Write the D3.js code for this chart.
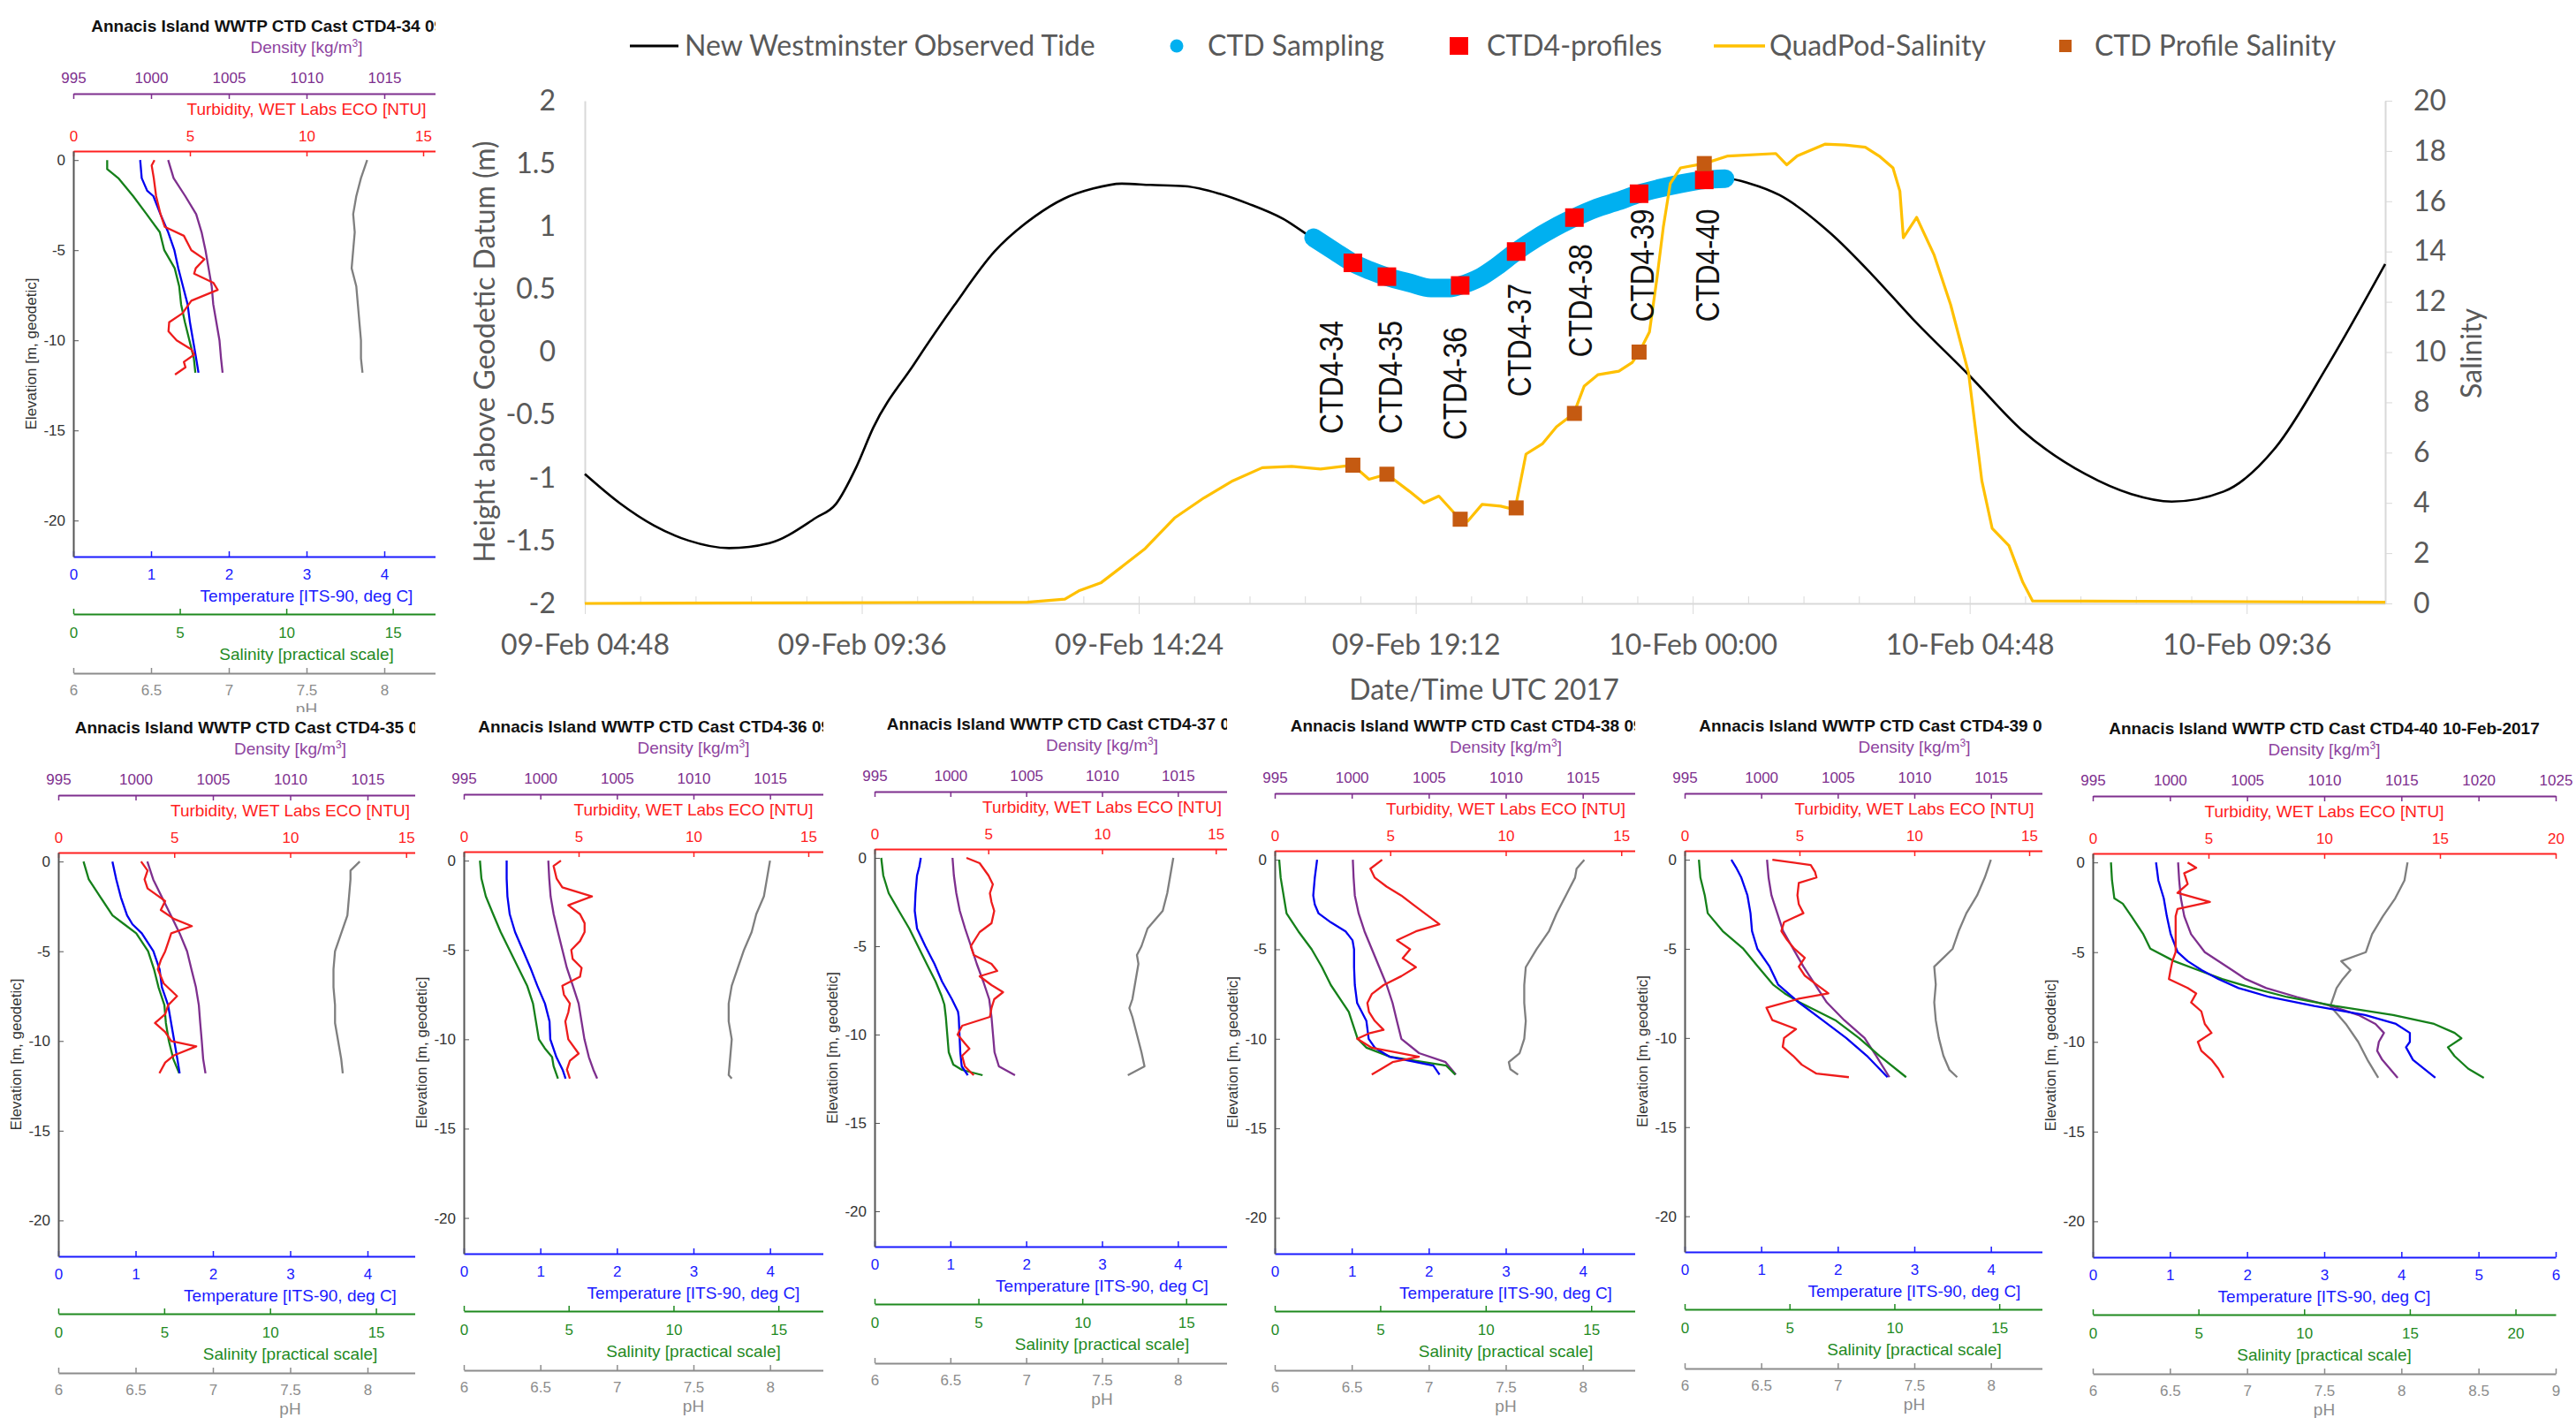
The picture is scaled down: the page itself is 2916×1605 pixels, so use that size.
<!DOCTYPE html>
<html>
<head>
<meta charset="utf-8">
<script src="https://cdn.jsdelivr.net/npm/d3@7/dist/d3.min.js"></script>
<style>
  body { margin: 0; background: #fff; }
  svg { display: block; }
</style>
</head>
<body>
<script>
// ---------- main tide chart data (hours after 09-Feb 04:48 UTC) ----------
var tide = [[0,-0.97],[0.6,-1.20],[1.2,-1.38],[1.8,-1.50],[2.5,-1.56],[3.2,-1.52],[4.0,-1.32],[4.35,-1.21],
  [4.7,-0.92],[5.0,-0.60],[5.7,-0.10],[6.4,0.37],[7.1,0.80],[7.8,1.08],[8.3,1.22],[8.8,1.30],[9.3,1.34],
  [9.8,1.33],[10.4,1.32],[11.0,1.26],[11.5,1.18],[12.1,1.06],[12.6,0.91],[13.3,0.71],[13.9,0.60],[14.6,0.52],
  [15.2,0.53],[15.7,0.64],[16.2,0.80],[16.7,0.95],[17.2,1.07],[17.7,1.17],[18.3,1.26],[18.9,1.32],[19.4,1.36],
  [19.8,1.38],[20.2,1.34],[20.7,1.25],[21.6,0.94],[22.3,0.62],[23.0,0.27],[24.0,-0.19],[24.9,-0.62],[26.0,-0.97],
  [26.8,-1.13],[27.5,-1.19],[28.4,-1.11],[29.3,-0.76],[30.2,-0.11],[31.2,0.70]];

var ctdSampling = [[12.63,0.91],[13.0,0.80],[13.31,0.71],[13.6,0.65],[13.9,0.60],[14.3,0.55],[14.66,0.51],
  [15.0,0.51],[15.17,0.53],[15.5,0.59],[15.8,0.68],[16.14,0.80],[16.5,0.91],[16.8,0.99],[17.15,1.07],[17.5,1.14],
  [17.9,1.20],[18.27,1.26],[18.6,1.30],[19.0,1.34],[19.4,1.37],[19.76,1.38]];

var castNames = ["CTD4-34","CTD4-35","CTD4-36","CTD4-37","CTD4-38","CTD4-39","CTD4-40"];
var castDates = ["09-Feb-2017","09-Feb-2017","09-Feb-2017","09-Feb-2017","09-Feb-2017","09-Feb-2017","10-Feb-2017"];
var profileHours = [13.31, 13.90, 15.17, 16.14, 17.15, 18.27, 19.40];
var profileLevel = [0.71, 0.60, 0.53, 0.80, 1.07, 1.26, 1.37];
var profileSalinity = [5.5, 5.14, 3.35, 3.8, 7.56, 10.0, 17.5];
var labelHours = [12.94, 13.97, 15.08, 16.19, 17.26, 18.33, 19.46];
var labelBase = [-0.65, -0.65, -0.70, -0.355, -0.04, 0.24, 0.24];

var quadPod = [[0,0],[7.67,0.05],[8.32,0.17],[8.56,0.5],[8.95,0.83],[9.33,1.5],[9.71,2.18],[10.22,3.4],[10.73,4.2],
  [11.23,4.88],[11.74,5.4],[12.25,5.45],[12.75,5.35],[13.31,5.5],[13.59,4.94],[13.9,5.14],[14.29,4.46],[14.54,4.0],
  [14.8,4.27],[15.17,3.34],[15.3,3.27],[15.55,3.94],[15.87,3.87],[16.12,3.73],[16.31,5.94],[16.6,6.36],[16.84,7.03],
  [17.14,7.56],[17.32,8.65],[17.56,9.1],[17.92,9.24],[18.15,9.58],[18.27,9.98],[18.45,10.8],[18.58,12.94],
  [18.69,14.97],[18.81,16.7],[18.99,17.33],[19.4,17.5],[19.81,17.8],[20.64,17.9],[20.83,17.45],[21.01,17.8],
  [21.49,18.27],[21.84,18.24],[22.19,18.15],[22.43,17.8],[22.67,17.33],[22.79,16.4],[22.85,14.55],[23.08,15.36],
  [23.38,13.88],[23.67,11.88],[23.98,9.17],[24.21,4.88],[24.39,2.98],[24.68,2.3],[24.92,0.84],[25.09,0.1],[31.2,0.05]];

var xTickHours = [0, 4.8, 9.6, 14.4, 19.2, 24, 28.8];
var xTickLabels = ["09-Feb 04:48","09-Feb 09:36","09-Feb 14:24","09-Feb 19:12","10-Feb 00:00","10-Feb 04:48","10-Feb 09:36"];
var leftTicks = [-2,-1.5,-1,-0.5,0,0.5,1,1.5,2];
var rightTicks = [0,2,4,6,8,10,12,14,16,18,20];

// ---------- CTD profiles: [elevation m, value] ----------
var temp34 = [[0,0.86],[-1,0.88],[-1.7,0.95],[-2,1.03],[-3,1.12],[-4,1.22],[-5,1.30],[-6,1.35],[-7,1.41],[-8,1.47],[-9,1.50],[-10,1.54],[-11,1.58],[-11.8,1.61]];
var sal34 = [[0,1.59],[-0.5,1.59],[-1,2.11],[-2,2.81],[-3,3.44],[-4,4.06],[-5,4.27],[-6,4.76],[-7,4.97],[-8,5.06],[-9,5.24],[-10,5.45],[-11,5.66],[-11.8,5.73]];
var dens34 = [[0,1001.1],[-1,1001.45],[-2,1002.2],[-3,1002.9],[-4,1003.25],[-5,1003.5],[-6,1003.7],[-7,1003.9],[-8,1004.0],[-9,1004.2],[-10,1004.4],[-11,1004.5],[-11.8,1004.6]];
var turb34 = [[0,3.48],[-0.3,3.36],[-1,3.45],[-2,3.55],[-3,3.74],[-3.7,3.92],[-4.2,4.74],[-5,5.06],[-5.5,5.62],[-6,5.25],[-6.3,5.18],[-6.8,6.0],[-7.2,6.19],[-7.8,5.06],[-8.5,4.68],[-9,4.11],[-9.5,4.08],[-10,4.43],[-10.5,5.06],[-10.8,5.18],[-11.2,4.74],[-11.5,4.81],[-11.9,4.36]];
var ph34 = [[0,7.89],[-1,7.85],[-2,7.82],[-3,7.80],[-4,7.81],[-5,7.80],[-6,7.79],[-7,7.82],[-8,7.83],[-9,7.84],[-10,7.85],[-11,7.85],[-11.8,7.86]];

var temp35 = [[0,0.70],[-1,0.75],[-2,0.81],[-3,0.89],[-3.5,0.96],[-4,1.08],[-5,1.23],[-6,1.31],[-7,1.34],[-8,1.42],[-9,1.46],[-10,1.50],[-11,1.54],[-11.8,1.57]];
var sal35 = [[0,1.19],[-1,1.44],[-2,2.0],[-3,2.56],[-3.5,3.12],[-4,3.68],[-5,4.24],[-6,4.52],[-7,4.73],[-8,5.01],[-9,5.08],[-10,5.22],[-11,5.43],[-11.8,5.71]];
var dens35 = [[0,1000.76],[-1,1001.14],[-2,1001.71],[-3,1002.28],[-4,1002.85],[-5,1003.33],[-6,1003.61],[-7,1003.90],[-8,1004.09],[-9,1004.18],[-10,1004.28],[-11,1004.37],[-11.8,1004.52]];
var turb35 = [[0,3.57],[-0.5,3.85],[-1,3.72],[-1.5,3.85],[-2.2,4.61],[-2.7,4.42],[-3.2,4.99],[-3.6,5.76],[-4,4.87],[-4.5,4.74],[-5,4.61],[-5.5,4.42],[-6,4.29],[-6.8,4.55],[-7.5,5.12],[-8,4.74],[-8.5,4.61],[-9,4.17],[-9.5,4.61],[-10,4.87],[-10.3,5.95],[-10.8,4.99],[-11.2,4.61],[-11.8,4.36]];
var ph35 = [[0,7.95],[-0.5,7.89],[-1,7.89],[-2,7.88],[-3,7.87],[-4,7.83],[-5,7.79],[-6,7.78],[-7,7.78],[-8,7.79],[-9,7.79],[-10,7.81],[-11,7.83],[-11.8,7.84]];

var temp36 = [[0,0.56],[-1,0.56],[-2,0.57],[-3,0.60],[-4,0.67],[-5,0.77],[-6,0.87],[-7,0.96],[-8,1.06],[-9,1.12],[-10,1.13],[-11,1.21],[-11.7,1.29],[-12.2,1.33]];
var sal36 = [[0,0.77],[-1,0.84],[-2,1.05],[-3,1.40],[-4,1.76],[-5,2.18],[-6,2.60],[-7,3.02],[-8,3.30],[-9,3.44],[-10,3.58],[-10.5,3.86],[-11,4.21],[-11.5,4.28],[-12.2,4.49]];
var dens36 = [[0,1000.52],[-1,1000.58],[-2,1000.67],[-3,1000.87],[-4,1001.15],[-5,1001.44],[-6,1001.73],[-7,1002.12],[-8,1002.50],[-9,1002.69],[-10,1002.88],[-11,1003.17],[-11.7,1003.46],[-12.2,1003.71]];
var turb36 = [[0,4.23],[-0.3,3.91],[-1,4.04],[-1.5,4.29],[-2,5.58],[-2.5,4.55],[-3,5.06],[-3.5,5.26],[-4,5.26],[-4.5,5.06],[-5,4.68],[-5.5,4.74],[-6,5.13],[-6.5,5.06],[-7,4.29],[-7.5,4.36],[-8,4.62],[-8.5,4.55],[-9,4.42],[-10,4.55],[-10.8,5.0],[-11.2,4.62],[-11.7,4.49],[-12.2,4.62]];
var ph36 = [[0,8.0],[-1,7.98],[-2,7.96],[-3,7.91],[-4,7.88],[-5,7.83],[-6,7.79],[-7,7.75],[-8,7.73],[-9,7.73],[-10,7.75],[-11,7.74],[-12,7.73],[-12.2,7.75]];

var temp37 = [[0,0.61],[-0.5,0.59],[-1,0.56],[-2,0.54],[-3,0.53],[-4,0.56],[-5,0.67],[-6,0.79],[-7,0.89],[-8,1.02],[-8.7,1.10],[-9,1.11],[-10,1.12],[-11,1.13],[-11.8,1.15],[-12.3,1.23]];
var sal37 = [[0,0.32],[-1,0.42],[-2,0.68],[-3,1.17],[-4,1.67],[-5,2.09],[-6,2.51],[-7,2.94],[-7.8,3.22],[-8.3,3.36],[-9,3.43],[-10,3.50],[-11,3.57],[-11.7,3.79],[-12,4.21],[-12.3,5.20]];
var dens37 = [[0,1000.14],[-1,1000.23],[-2,1000.39],[-3,1000.62],[-4,1000.97],[-5,1001.36],[-6,1001.74],[-7,1002.17],[-8,1002.56],[-9,1002.71],[-10,1002.81],[-11,1002.91],[-11.8,1003.20],[-12.3,1004.26]];
var turb37 = [[0,4.04],[-0.3,4.62],[-1,5.01],[-1.5,5.20],[-2,5.07],[-2.5,5.14],[-3,5.26],[-3.7,5.14],[-4.2,4.62],[-5,4.23],[-5.5,4.36],[-6,5.14],[-6.4,5.39],[-6.7,4.62],[-7.2,5.14],[-7.6,5.65],[-8,5.26],[-8.5,5.14],[-9,5.07],[-9.5,3.85],[-10,3.65],[-10.5,3.97],[-10.8,4.17],[-11.2,3.85],[-11.8,3.97],[-12.3,4.36]];
var ph37 = [[0,7.97],[-1,7.95],[-2,7.93],[-3,7.90],[-4,7.80],[-5,7.76],[-5.5,7.73],[-6,7.74],[-7,7.72],[-8,7.70],[-8.5,7.68],[-9,7.70],[-10,7.73],[-11,7.76],[-11.8,7.78],[-12.3,7.67]];

var temp38 = [[0,0.55],[-1,0.52],[-2,0.50],[-2.5,0.52],[-3,0.57],[-3.5,0.73],[-4,0.92],[-4.5,1.01],[-5,1.03],[-6,1.03],[-7,1.04],[-8,1.07],[-9,1.19],[-10,1.22],[-10.5,1.30],[-11,1.49],[-11.5,2.06],[-12,2.14]];
var sal38 = [[0,0.21],[-1,0.28],[-2,0.42],[-3,0.56],[-4,1.12],[-5,1.75],[-6,2.24],[-7,2.66],[-8,3.23],[-8.5,3.51],[-9,3.65],[-10,3.93],[-10.5,4.35],[-11,5.47],[-11.5,8.13],[-12,8.56]];
var dens38 = [[0,1000.07],[-1,1000.12],[-2,1000.20],[-3,1000.45],[-4,1000.83],[-5,1001.31],[-6,1001.79],[-7,1002.27],[-8,1002.65],[-9,1002.93],[-10,1003.22],[-10.8,1004.37],[-11.3,1006.09],[-12,1006.76]];
var turb38 = [[0,4.65],[-0.5,4.14],[-1,4.33],[-1.5,4.84],[-2,5.48],[-2.5,5.99],[-3,6.50],[-3.6,7.13],[-4,6.11],[-4.5,5.29],[-5,5.86],[-5.5,5.54],[-6,6.11],[-6.5,5.48],[-7,4.71],[-7.5,4.20],[-8,4.01],[-8.5,4.08],[-9,4.33],[-9.5,4.71],[-9.7,4.08],[-10,3.57],[-10.5,4.20],[-11,6.24],[-11.3,5.10],[-11.7,4.59],[-12,4.20]];
var ph38 = [[0,8.01],[-0.5,7.96],[-1,7.95],[-2,7.89],[-3,7.83],[-4,7.78],[-5,7.70],[-6,7.63],[-7,7.62],[-8,7.62],[-9,7.63],[-10,7.62],[-10.8,7.59],[-11.3,7.52],[-11.7,7.53],[-12,7.58]];

var temp39 = [[0,0.61],[-0.5,0.68],[-1,0.74],[-2,0.82],[-3,0.86],[-4,0.88],[-5,0.95],[-6,1.11],[-7,1.22],[-8,1.49],[-9,1.80],[-10,2.11],[-11,2.38],[-12.2,2.65]];
var sal39 = [[0,0.68],[-1,0.75],[-2,0.96],[-3,1.10],[-4,1.81],[-5,2.80],[-6,3.50],[-7,4.21],[-7.5,4.77],[-8,5.48],[-9,7.18],[-10,8.31],[-11,9.29],[-12.2,10.56]];
var dens39 = [[0,1000.38],[-1,1000.48],[-2,1000.67],[-3,1001.05],[-4,1001.43],[-5,1002.09],[-6,1002.76],[-7,1003.52],[-8,1004.28],[-9,1005.42],[-10,1006.75],[-11,1007.51],[-12.2,1008.37]];
var turb39 = [[0,3.82],[-0.3,5.49],[-0.7,5.68],[-1,5.74],[-1.3,4.97],[-2,4.91],[-2.5,4.97],[-3,5.17],[-3.5,4.33],[-4,4.21],[-4.5,4.46],[-5,4.78],[-5.5,5.23],[-6,4.97],[-6.5,5.23],[-7,5.74],[-7.5,6.26],[-7.8,4.97],[-8.3,3.56],[-9,3.82],[-9.5,4.85],[-10,4.33],[-10.5,4.27],[-11,4.72],[-11.5,5.10],[-12,5.74],[-12.2,7.15]];
var ph39 = [[0,8.00],[-1,7.96],[-2,7.91],[-3,7.84],[-4,7.79],[-5,7.75],[-5.5,7.69],[-6,7.63],[-7,7.64],[-8,7.63],[-9,7.64],[-10,7.66],[-11,7.69],[-11.8,7.73],[-12.2,7.78]];

var temp40 = [[0,0.82],[-1,0.85],[-2,0.92],[-3,0.96],[-4,1.01],[-5,1.10],[-5.5,1.23],[-6,1.41],[-6.5,1.63],[-7,1.89],[-7.5,2.29],[-8,2.87],[-8.5,3.53],[-9,3.93],[-9.5,4.11],[-10,4.11],[-10.3,4.06],[-11,4.15],[-12,4.44]];
var sal40 = [[0,0.86],[-1,0.91],[-2,1.02],[-2.3,1.42],[-3,1.83],[-4,2.39],[-4.8,2.72],[-5.5,3.85],[-6,4.98],[-6.5,6.12],[-7,7.57],[-7.5,9.19],[-8,11.46],[-8.5,14.21],[-9,16.15],[-9.5,17.12],[-9.8,17.44],[-10.3,16.80],[-10.8,17.12],[-11.5,17.77],[-12,18.50]];
var dens40 = [[0,1000.53],[-1,1000.60],[-2,1000.71],[-3,1000.93],[-4,1001.37],[-5,1002.26],[-6,1004.03],[-6.5,1004.91],[-7,1006.24],[-7.5,1008.23],[-8,1010.44],[-8.5,1012.21],[-9,1013.32],[-9.5,1013.87],[-10,1013.54],[-10.5,1013.43],[-11,1013.76],[-12,1014.76]];
var turb40 = [[0,4.10],[-0.3,4.47],[-0.6,3.95],[-1.2,4.10],[-1.7,3.66],[-2.2,5.06],[-2.6,3.66],[-3,3.58],[-4,3.58],[-5,3.58],[-5.5,3.44],[-6,3.36],[-6.5,3.29],[-7,4.10],[-7.3,4.47],[-7.8,4.25],[-8.3,4.69],[-9,4.84],[-9.5,5.13],[-10,4.54],[-10.5,4.69],[-11,5.13],[-11.5,5.43],[-12,5.65]];
var ph40 = [[0,8.04],[-1,8.02],[-2,7.96],[-3,7.88],[-4,7.81],[-5,7.77],[-5.5,7.61],[-6,7.67],[-6.5,7.62],[-7,7.58],[-8,7.54],[-9,7.64],[-10,7.72],[-11,7.78],[-12,7.85]];

var castTemp = [temp34, temp35, temp36, temp37, temp38, temp39, temp40];
var castSal = [sal34, sal35, sal36, sal37, sal38, sal39, sal40];
var castDens = [dens34, dens35, dens36, dens37, dens38, dens39, dens40];
var castTurb = [turb34, turb35, turb36, turb37, turb38, turb39, turb40];
var castPh = [ph34, ph35, ph36, ph37, ph38, ph39, ph40];

// panel layout: plot box and visible window of each cropped figure
var panelBox = [
  {x:83,   y:171,   w:528, h:459, cl:0,    cr:493,  ct:0,   cb:810},
  {x:66,   y:965,   w:525, h:457, cl:0,    cr:470,  ct:806, cb:1605},
  {x:525,  y:964,   w:520, h:455, cl:470,  cr:932,  ct:800, cb:1605},
  {x:990,  y:961,   w:515, h:450, cl:932,  cr:1389, ct:800, cb:1605},
  {x:1443, y:963,   w:523, h:456, cl:1389, cr:1851, ct:800, cb:1605},
  {x:1907, y:963,   w:520, h:454, cl:1851, cr:2312, ct:800, cb:1605},
  {x:2369, y:966,   w:524, h:457, cl:2312, cr:2916, ct:800, cb:1605}
];

var colTem = "#1a1aff", colSal = "#1f8a1f", colDen = "#7e2f8e", colTur = "#ff2020", colPh = "#8c8c8c";

var svg = d3.select("body").append("svg")
    .attr("width", 2916)
    .attr("height", 1605);
svg.append("rect").attr("width", 2916).attr("height", 1605).attr("fill", "#fff");
var defs = svg.append("defs");

function fmt(d) { return String(+(+d).toFixed(2)); }

function hAxis(g, scale, top, ypos, vals, color, pad, limit) {
    // only ticks that are inside the visible (cropped) window
    vals = vals.filter(function(v) { return scale(v) <= limit; });
    var ax = (top ? d3.axisTop(scale) : d3.axisBottom(scale))
        .tickValues(vals).tickFormat(fmt)
        .tickSizeInner(-6).tickSizeOuter(0).tickPadding(pad);
    var a = g.append("g")
        .attr("transform", "translate(0," + ypos + ")")
        .call(ax)
        .attr("color", color)
        .attr("font-size", 17)
        .attr("font-family", null);
    a.select(".domain").attr("stroke-width", 2);
    a.selectAll(".tick line").attr("stroke-width", 1.5);
    return a;
}

function axisTitle(g, x, y, color, txt) {
    return g.append("text")
        .attr("x", x).attr("y", y).attr("dy", "0.35em")
        .attr("text-anchor", "middle")
        .attr("font-size", 19)
        .attr("fill", color)
        .text(txt);
}

function drawPanel(i) {
    var b = panelBox[i];
    defs.append("clipPath").attr("id", "clip" + i).append("rect")
        .attr("x", b.cl).attr("y", b.ct).attr("width", b.cr - b.cl).attr("height", b.cb - b.ct);

    var g = svg.append("g")
        .attr("clip-path", "url(#clip" + i + ")")
        .attr("font-family", "'Liberation Sans', Arial, Helvetica, sans-serif");
    g.append("rect")
        .attr("x", b.cl).attr("y", b.ct)
        .attr("width", b.cr - b.cl).attr("height", b.cb - b.ct)
        .attr("fill", "#fff");

    var top = b.y, bot = b.y + b.h, mid = b.x + b.w / 2, lim = b.cr - 8;
    var y = d3.scaleLinear().domain([-22, 0.5]).range([bot, top]);
    var xDen = d3.scaleLinear().domain([995, 1025]).range([b.x, b.x + b.w]);
    var xTur = d3.scaleLinear().domain([0, 20]).range([b.x, b.x + b.w]);
    var xTem = d3.scaleLinear().domain([0, 6]).range([b.x, b.x + b.w]);
    var xSal = d3.scaleLinear().domain([0, 21.9]).range([b.x, b.x + b.w]);
    var xPh = d3.scaleLinear().domain([6, 9]).range([b.x, b.x + b.w]);

    // title
    g.append("text")
        .attr("x", mid).attr("y", top - 142).attr("dy", "0.35em")
        .attr("text-anchor", "middle")
        .attr("font-size", 19).attr("font-weight", "bold")
        .attr("fill", "#111")
        .text("Annacis Island WWTP CTD Cast " + castNames[i] + " " + castDates[i]);

    // density title with superscript
    var dt = g.append("text")
        .attr("x", mid).attr("y", top - 118).attr("dy", "0.35em")
        .attr("text-anchor", "middle").attr("font-size", 19).attr("fill", "#8e44a0");
    dt.append("tspan").text("Density [kg/m");
    dt.append("tspan").attr("font-size", 12).attr("dy", "-0.55em").text("3");
    dt.append("tspan").attr("dy", "0.35em").text("]");

    hAxis(g, xDen, true, top - 65, d3.range(995, 1026, 5), colDen, 12, lim);
    axisTitle(g, mid, top - 48, colTur, "Turbidity, WET Labs ECO [NTU]");
    hAxis(g, xTur, true, top, [0, 5, 10, 15, 20], colTur, 11, lim);

    hAxis(g, xTem, false, bot, [0, 1, 2, 3, 4, 5, 6], colTem, 14, lim);
    axisTitle(g, mid, bot + 44, colTem, "Temperature [ITS-90, deg C]");
    hAxis(g, xSal, false, bot + 65, [0, 5, 10, 15, 20], colSal, 15, lim);
    axisTitle(g, mid, bot + 110, colSal, "Salinity [practical scale]");
    hAxis(g, xPh, false, bot + 132, [6, 6.5, 7, 7.5, 8, 8.5, 9], colPh, 13, lim);
    axisTitle(g, mid, bot + 172, colPh, "pH");

    // elevation axis
    var ey = g.append("g")
        .attr("transform", "translate(" + b.x + ",0)")
        .call(d3.axisLeft(y).tickValues([0, -5, -10, -15, -20]).tickFormat(fmt)
            .tickSizeInner(-6).tickSizeOuter(0).tickPadding(9))
        .attr("color", "#555")
        .attr("font-size", 17)
        .attr("font-family", null);
    ey.select(".domain").attr("stroke-width", 2);
    ey.selectAll("text").attr("fill", "#333");

    g.append("text")
        .attr("transform", "translate(" + (b.x - 48) + "," + (top + b.h / 2) + ") rotate(-90)")
        .attr("dy", "0.35em").attr("text-anchor", "middle")
        .attr("font-size", 17).attr("fill", "#333")
        .text("Elevation [m, geodetic]");

    // profile curves
    function curve(data, xs, color) {
        g.append("path")
            .datum(data)
            .attr("fill", "none")
            .attr("stroke", color)
            .attr("stroke-width", 2.3)
            .attr("stroke-linejoin", "round")
            .attr("d", d3.line()
                .x(function(d) { return xs(d[1]); })
                .y(function(d) { return y(d[0]); }));
    }
    curve(castPh[i], xPh, "#7f7f7f");
    curve(castDens[i], xDen, "#7e2f8e");
    curve(castSal[i], xSal, "#15801a");
    curve(castTemp[i], xTem, "#0000f0");
    curve(castTurb[i], xTur, "#ee1c1c");
}

function drawMain() {
    var t0 = Date.UTC(2017, 1, 9, 4, 48);
    function hd(h) { return new Date(t0 + h * 3600000); }

    var g = svg.append("g").attr("font-family", "Lato, 'Open Sans', sans-serif");
    g.append("rect").attr("x", 493).attr("y", 0).attr("width", 2916 - 493).attr("height", 798).attr("fill", "#fff");

    var x = d3.scaleUtc().domain([hd(0), hd(31.2)]).range([662, 2700]);
    var yL = d3.scaleLinear().domain([-2, 2]).range([683, 114]);
    var yR = d3.scaleLinear().domain([0, 20]).range([683, 114]);

    // left axis
    var la = g.append("g")
        .attr("transform", "translate(662,0)")
        .call(d3.axisLeft(yL).tickValues(leftTicks).tickFormat(fmt).tickSize(0).tickPadding(33))
        .attr("color", "#d9d9d9").attr("font-size", 32).attr("font-family", null);
    la.select(".domain").attr("stroke-width", 2);
    la.selectAll("text").attr("fill", "#595959");

    // right axis
    var ra = g.append("g")
        .attr("transform", "translate(2700,0)")
        .call(d3.axisRight(yR).tickValues(rightTicks).tickFormat(fmt)
            .tickSizeInner(8).tickSizeOuter(0).tickPadding(24))
        .attr("color", "#d9d9d9").attr("font-size", 32).attr("font-family", null);
    ra.select(".domain").attr("stroke-width", 2);
    ra.selectAll("text").attr("fill", "#595959");

    // minor ticks
    var minor = d3.range(0, 31.2, 0.96).map(hd);
    var mi = g.append("g")
        .attr("transform", "translate(0,683)")
        .call(d3.axisBottom(x).tickValues(minor).tickFormat("").tickSizeInner(-8).tickSizeOuter(0))
        .attr("color", "#d9d9d9");
    mi.select(".domain").remove();

    // bottom axis
    var ba = g.append("g")
        .attr("transform", "translate(0,683)")
        .call(d3.axisBottom(x).tickValues(xTickHours.map(hd))
            .tickFormat(function(d, i) { return xTickLabels[i]; })
            .tickSizeInner(12).tickSizeOuter(0).tickPadding(23))
        .attr("color", "#d9d9d9").attr("font-size", 32).attr("font-family", null);
    ba.select(".domain").attr("stroke-width", 2);
    ba.selectAll("text").attr("fill", "#595959");

    // axis titles
    g.append("text")
        .attr("transform", "translate(549,398) rotate(-90)")
        .attr("dy", "0.35em").attr("text-anchor", "middle")
        .attr("font-size", 32).attr("fill", "#595959")
        .text("Height above Geodetic Datum (m)");
    g.append("text")
        .attr("transform", "translate(2798,400) rotate(-90)")
        .attr("dy", "0.35em").attr("text-anchor", "middle")
        .attr("font-size", 32).attr("fill", "#595959")
        .text("Salinity");
    g.append("text")
        .attr("x", 1680).attr("y", 781).attr("dy", "0.35em")
        .attr("text-anchor", "middle")
        .attr("font-size", 32).attr("fill", "#595959")
        .text("Date/Time UTC 2017");

    var line = d3.line()
        .curve(d3.curveMonotoneX)
        .x(function(d) { return x(hd(d[0])); })
        .y(function(d) { return yL(d[1]); });
    var lineR = d3.line()
        .x(function(d) { return x(hd(d[0])); })
        .y(function(d) { return yR(d[1]); });

    // observed tide
    g.append("path").datum(tide)
        .attr("fill", "none").attr("stroke", "#000").attr("stroke-width", 2.6)
        .attr("d", line);

    // CTD sampling band
    g.append("path").datum(ctdSampling)
        .attr("fill", "none").attr("stroke", "#00b0f0").attr("stroke-width", 21)
        .attr("stroke-linecap", "round").attr("stroke-linejoin", "round")
        .attr("d", line);

    // CTD4 profile points
    g.selectAll(".prof").data(profileHours).enter().append("rect")
        .attr("class", "prof")
        .attr("x", function(d) { return x(hd(d)) - 10.5; })
        .attr("y", function(d, i) { return yL(profileLevel[i]) - 10.5; })
        .attr("width", 21).attr("height", 21)
        .attr("fill", "#ff0000");

    // QuadPod salinity
    g.append("path").datum(quadPod)
        .attr("fill", "none").attr("stroke", "#ffc000").attr("stroke-width", 3.2)
        .attr("stroke-linejoin", "round")
        .attr("d", lineR);

    // CTD profile salinity
    g.selectAll(".psal").data(profileHours).enter().append("rect")
        .attr("class", "psal")
        .attr("x", function(d) { return x(hd(d)) - 8.5; })
        .attr("y", function(d, i) { return yR(profileSalinity[i]) - 8.5; })
        .attr("width", 17).attr("height", 17)
        .attr("fill", "#c55a11");

    // cast labels
    g.selectAll(".clab").data(castNames).enter().append("text")
        .attr("class", "clab")
        .attr("transform", function(d, i) {
            return "translate(" + x(hd(labelHours[i])) + "," + yL(labelBase[i]) + ") rotate(-90)";
        })
        .attr("dy", "0.36em")
        .attr("font-family", "'Liberation Sans', Arial, sans-serif")
        .attr("font-size", 36)
        .attr("textLength", 128).attr("lengthAdjust", "spacingAndGlyphs")
        .attr("fill", "#111")
        .text(function(d) { return d; });

    // legend
    var ly = 52;
    var lg = g.append("g").attr("font-size", 32).attr("fill", "#595959");
    lg.append("line").attr("x1", 713).attr("x2", 768).attr("y1", ly).attr("y2", ly)
        .attr("stroke", "#000").attr("stroke-width", 3);
    lg.append("text").attr("x", 775).attr("y", ly).attr("dy", "0.35em").text("New Westminster Observed Tide");
    lg.append("circle").attr("cx", 1332).attr("cy", ly).attr("r", 7.5).attr("fill", "#00b0f0");
    lg.append("text").attr("x", 1367).attr("y", ly).attr("dy", "0.35em").text("CTD Sampling");
    lg.append("rect").attr("x", 1641).attr("y", ly - 10).attr("width", 21).attr("height", 20).attr("fill", "#ff0000");
    lg.append("text").attr("x", 1683).attr("y", ly).attr("dy", "0.35em").text("CTD4-profiles");
    lg.append("line").attr("x1", 1940).attr("x2", 1998).attr("y1", ly).attr("y2", ly)
        .attr("stroke", "#ffc000").attr("stroke-width", 3.5);
    lg.append("text").attr("x", 2003).attr("y", ly).attr("dy", "0.35em").text("QuadPod-Salinity");
    lg.append("rect").attr("x", 2331).attr("y", ly - 7).attr("width", 14).attr("height", 14).attr("fill", "#c55a11");
    lg.append("text").attr("x", 2371).attr("y", ly).attr("dy", "0.35em").text("CTD Profile Salinity");
}

drawPanel(0);
drawMain();
for (var i = 1; i < castNames.length; i++) drawPanel(i);
</script>
</body>
</html>
